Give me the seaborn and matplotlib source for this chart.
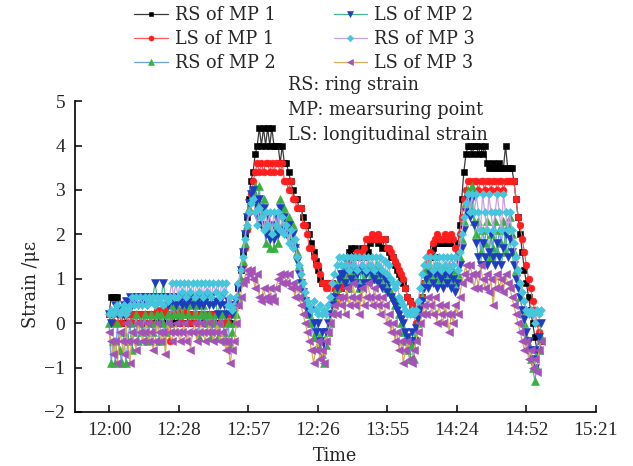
import numpy as np
import matplotlib
matplotlib.use("Agg")
import matplotlib.pyplot as plt
import seaborn as sns

# ---------------- data ----------------
tick_labels = ["12:00", "12:28", "12:57", "12:26", "13:55", "14:24", "14:52", "15:21"]
series_names = ["RS of MP 1", "LS of MP 1", "RS of MP 2", "LS of MP 2", "RS of MP 3", "LS of MP 3"]
sample_step = 0.03  # tick intervals per sample

rs_mp1 = [0.2, 0.6, 0.6, 0.6, 0.6, 0.2, 0.0, 0.2, 0.0, 0.2, 0.2, 0.0, 0.2, 0.0, 0.2, 0.0,
          0.2, 0.0, 0.2, 0.2, 0.0, 0.2, 0.0, 0.2, 0.0, 0.2, 0.2, 0.0, 0.2, 0.0, 0.2, 0.0,
          0.2, 0.0, 0.2, 0.0, 0.2, 0.2, 0.0, 0.2, 0.0, 0.2, 0.0, 0.2, 0.2, 0.0, 0.2, 0.0,
          0.2, 0.0, 0.2, 0.0, 0.2, 0.0, 0.2, 0.2, 0.0, 0.2, 0.0, 0.2, 0.4, 0.4, 0.8, 1.2,
          1.6, 2.0, 2.4, 2.8, 3.2, 3.4, 3.8, 4.0, 4.4, 4.0, 4.4, 4.0, 4.4, 4.0, 4.4, 4.0,
          4.0, 4.0, 3.6, 4.0, 3.6, 3.6, 3.4, 3.2, 3.0, 2.8, 2.8, 2.6, 2.6, 2.4, 2.2, 2.2,
          2.0, 1.8, 1.6, 1.4, 1.2, 1.0, 0.9, 0.9, 0.9, 0.9, 0.9, 0.9, 0.6, 0.6, 0.6, 0.8,
          1.0, 1.2, 1.4, 1.6, 1.7, 1.5, 1.7, 1.5, 1.6, 1.7, 1.5, 1.7, 1.6, 1.8, 1.9, 1.9,
          1.9, 1.8, 1.9, 1.7, 1.9, 1.7, 1.6, 1.5, 1.5, 1.3, 1.2, 1.1, 1.0, 0.9, 0.8, 0.6,
          0.5, 0.4, 0.3, 0.2, 0.3, 0.4, 0.6, 0.9, 1.2, 1.4, 1.5, 1.7, 1.5, 1.8, 1.8, 1.8,
          1.8, 1.8, 1.8, 1.8, 1.8, 1.8, 1.8, 1.6, 2.2, 2.8, 3.4, 3.8, 4.0, 4.0, 3.8, 4.0,
          4.0, 3.8, 4.0, 3.8, 4.0, 3.6, 3.5, 3.5, 3.6, 3.5, 3.5, 3.6, 3.5, 3.5, 4.0, 3.5,
          3.5, 3.5, 3.2, 2.8, 2.4, 2.0, 1.6, 1.2, 0.9, 0.6, 0.3, 0.0, -0.3, -0.6, -0.6, -0.4]

ls_mp1 = [0.2, 0.0, 0.2, 0.0, 0.0, 0.2, 0.0, 0.2, 0.2, 0.0, 0.2, 0.0, 0.2, 0.0, 0.2, 0.0,
          0.2, 0.2, 0.0, 0.2, 0.0, 0.2, 0.2, 0.3, 0.2, 0.3, 0.2, 0.3, 0.2, -0.4, 0.2, 0.3,
          0.2, 0.3, 0.2, 0.0, 0.2, 0.3, 0.2, 0.0, 0.2, 0.0, 0.2, 0.0, 0.2, 0.2, 0.0, 0.2,
          0.0, 0.2, 0.0, 0.2, 0.2, 0.0, 0.2, 0.0, 0.2, 0.0, 0.2, 0.2, 0.3, 0.4, 0.6, 0.9,
          1.3, 1.7, 2.1, 2.5, 2.9, 3.2, 3.4, 3.6, 3.4, 3.6, 3.4, 3.6, 3.6, 3.4, 3.6, 3.4,
          3.6, 3.6, 3.4, 3.6, 3.2, 3.2, 3.0, 3.2, 2.8, 2.8, 2.6, 2.6, 2.6, 2.2, 2.2, 2.0,
          1.7, 1.7, 1.5, 1.3, 1.3, 1.1, 0.9, 0.9, 0.8, 0.9, 0.8, 0.9, 0.8, 0.5, 0.6, 0.8,
          0.9, 1.1, 1.3, 1.4, 1.5, 1.3, 1.5, 1.6, 1.5, 1.6, 1.7, 1.9, 1.9, 1.9, 2.0, 1.9,
          1.9, 2.0, 1.9, 1.9, 1.9, 1.7, 1.7, 1.6, 1.5, 1.4, 1.3, 1.2, 1.1, 1.0, 0.8, 0.6,
          0.5, 0.4, 0.2, 0.0, 0.2, 0.4, 0.6, 0.9, 1.2, 1.4, 1.6, 1.8, 1.9, 2.0, 1.9, 1.9,
          1.9, 2.0, 1.9, 1.9, 2.0, 1.9, 1.7, 1.6, 2.0, 2.4, 2.8, 3.0, 3.2, 3.2, 3.0, 3.2,
          3.2, 3.0, 3.2, 3.2, 3.0, 3.2, 3.2, 3.0, 3.2, 3.2, 3.0, 3.2, 3.2, 3.0, 3.2, 3.2,
          3.2, 3.2, 3.2, 2.8, 2.4, 2.2, 1.9, 1.6, 1.3, 1.0, 0.8, 0.5, 0.3, 0.0, -0.2, -0.4]

rs_mp2 = [0.0, -0.9, -0.4, -0.9, 0.0, -0.6, -0.9, -0.2, -0.9, -0.4, 0.0, -0.6, -0.2, 0.2, -0.4, 0.0,
          -0.2, 0.2, -0.4, 0.0, 0.2, -0.2, 0.0, 0.2, -0.4, 0.2, 0.0, -0.2, 0.2, 0.0, 0.4, 0.2,
          0.4, 0.2, 0.5, 0.2, 0.4, 0.5, 0.2, 0.4, 0.5, 0.2, 0.4, -0.3, 0.2, 0.4, 0.2, 0.0,
          0.2, -0.3, 0.0, 0.2, -0.3, 0.0, 0.2, -0.2, -0.4, 0.0, -0.5, -0.2, 0.0, 0.2, 0.6, 1.0,
          1.4, 1.8, 2.2, 2.6, 2.8, 3.0, 3.1, 2.6, 3.1, 2.3, 2.8, 1.8, 2.3, 1.7, 2.2, 1.7,
          2.3, 1.8, 2.8, 2.2, 2.6, 2.2, 2.4, 2.0, 2.2, 1.8, 1.6, 1.3, 1.0, 0.8, 0.6, 0.3,
          0.2, 0.0, -0.3, -0.2, -0.5, -0.3, -0.7, -0.9, -0.5, -0.2, 0.0, 0.3, 0.6, 0.8, 1.0, 1.1,
          1.2, 1.0, 1.3, 0.8, 1.1, 1.3, 1.0, 1.2, 0.8, 1.3, 1.0, 1.2, 1.3, 1.0, 1.3, 1.1,
          1.3, 1.0, 1.2, 0.9, 1.1, 0.8, 1.0, 0.7, 0.6, 0.4, 0.5, 0.2, 0.0, -0.2, -0.4, -0.6,
          -0.8, -0.5, -0.8, -0.3, 0.0, 0.3, 0.6, 0.9, 1.2, 1.0, 1.3, 1.1, 1.3, 1.0, 1.3, 1.2,
          1.0, 1.3, 1.1, 1.3, 1.0, 1.2, 0.9, 1.1, 1.5, 1.9, 2.3, 2.7, 3.0, 2.6, 3.1, 2.3,
          2.0, 2.3, 1.6, 2.1, 1.8, 2.3, 1.5, 2.0, 1.7, 2.3, 1.6, 2.1, 1.8, 2.3, 1.6, 2.2,
          2.4, 2.0, 1.6, 1.2, 0.9, 0.6, 0.3, 0.0, -0.3, -0.5, -0.8, -1.0, -1.3, -1.0, -0.6, -0.3]

ls_mp2 = [0.2, 0.0, 0.2, 0.4, 0.2, 0.3, 0.2, 0.4, 0.5, 0.4, 0.6, 0.4, 0.5, 0.6, 0.4, 0.6,
          0.5, 0.6, 0.4, 0.6, 0.5, 0.6, 0.9, 0.6, 0.5, 0.6, 0.9, 0.6, 0.4, 0.6, 0.5, 0.6,
          0.4, 0.6, 0.5, 0.4, 0.6, 0.4, 0.5, 0.6, 0.4, 0.6, 0.5, 0.4, 0.6, 0.4, 0.5, 0.6,
          0.4, 0.6, 0.4, 0.5, 0.2, 0.4, 0.6, 0.4, 0.2, 0.5, 0.4, 0.2, 0.4, 0.5, 0.8, 1.2,
          1.6, 2.0, 2.4, 2.7, 2.9, 3.0, 2.7, 2.4, 2.8, 2.2, 2.6, 2.0, 2.4, 1.9, 2.2, 1.9,
          2.4, 2.0, 2.6, 2.1, 2.4, 2.0, 2.2, 1.8, 2.0, 1.7, 1.4, 1.1, 0.9, 0.7, 0.5, 0.3,
          0.2, 0.3, 0.0, -0.2, 0.0, -0.4, -0.2, -0.5, -0.2, 0.0, 0.2, 0.4, 0.6, 0.8, 1.0, 1.1,
          1.1, 0.9, 1.2, 0.8, 1.0, 1.2, 0.9, 1.1, 0.8, 1.2, 0.9, 1.1, 1.2, 0.9, 1.1, 1.0,
          1.2, 0.9, 1.1, 0.8, 1.0, 0.7, 0.9, 0.6, 0.5, 0.4, 0.3, 0.2, 0.1, 0.0, -0.2, -0.3,
          -0.4, -0.2, -0.4, -0.1, 0.1, 0.3, 0.5, 0.8, 1.0, 0.8, 1.1, 0.9, 1.1, 0.8, 1.1, 1.0,
          0.8, 1.1, 0.9, 1.1, 0.8, 1.0, 0.7, 0.9, 1.3, 1.7, 2.1, 2.5, 2.8, 2.4, 2.8, 2.2,
          1.8, 1.5, 1.3, 1.8, 1.5, 1.3, 1.6, 2.0, 1.5, 1.3, 1.8, 1.5, 1.3, 1.7, 2.0, 1.5,
          1.9, 1.6, 1.3, 1.0, 0.8, 0.6, 0.3, 0.1, -0.2, -0.4, -0.6, -0.8, -1.0, -0.6, -0.3, 0.0]

rs_mp3 = [0.2, 0.3, 0.2, 0.3, 0.4, 0.2, 0.3, 0.4, 0.2, 0.3, 0.4, 0.6, 0.4, 0.6, 0.4, 0.6,
          0.4, 0.6, 0.4, 0.6, 0.5, 0.6, 0.4, 0.6, 0.5, 0.6, 0.4, 0.6, 0.5, 0.6, 0.9, 0.6,
          0.9, 0.6, 0.9, 0.7, 0.9, 0.6, 0.9, 0.7, 0.9, 0.6, 0.9, 0.7, 0.9, 0.6, 0.9, 0.7,
          0.9, 0.6, 0.9, 0.7, 0.9, 0.6, 0.9, 0.7, 0.9, 0.4, 0.6, 0.3, 0.4, 0.6, 0.9, 1.2,
          1.5, 1.9, 2.2, 2.5, 2.7, 2.8, 2.5, 2.2, 2.6, 2.4, 2.1, 2.5, 2.2, 2.5, 2.0, 2.5,
          2.2, 2.5, 2.1, 2.4, 2.0, 2.2, 1.8, 2.1, 1.7, 1.9, 1.5, 1.3, 1.1, 0.9, 0.7, 0.5,
          0.4, 0.3, 0.5, 0.3, 0.2, 0.4, 0.2, 0.3, 0.2, 0.4, 0.6, 0.9, 1.1, 1.3, 1.5, 1.3,
          1.5, 1.3, 1.5, 1.2, 1.5, 1.3, 1.5, 1.2, 1.5, 1.3, 1.5, 1.2, 1.5, 1.3, 1.5, 1.2,
          1.5, 1.3, 1.5, 1.2, 1.4, 1.1, 1.3, 1.0, 0.9, 0.8, 0.9, 0.6, 0.5, 0.4, 0.3, 0.2,
          0.2, 0.3, 0.2, 0.3, 0.5, 0.8, 1.1, 1.3, 1.5, 1.3, 1.5, 1.2, 1.5, 1.3, 1.5, 1.2,
          1.5, 1.3, 1.5, 1.2, 1.5, 1.3, 1.5, 1.2, 1.6, 2.0, 2.4, 2.7, 2.9, 2.5, 2.9, 2.5,
          2.9, 2.5, 2.1, 2.9, 2.5, 2.1, 2.9, 2.5, 2.1, 2.5, 2.9, 2.5, 2.1, 2.9, 2.5, 2.1,
          2.5, 2.1, 1.8, 1.5, 1.2, 0.9, 0.7, 0.5, 0.3, 0.2, 0.3, 0.2, 0.0, 0.3, 0.2, 0.3]

ls_mp3 = [-0.2, -0.4, -0.7, -0.4, -0.9, -0.2, -0.4, -0.7, 0.0, -0.4, -0.9, -0.2, -0.4, -0.6, 0.0, -0.2,
          -0.4, -0.2, 0.0, -0.4, -0.2, -0.6, -0.4, 0.0, -0.2, -0.4, -0.2, -0.7, 0.0, -0.2, -0.4, -0.2,
          0.0, -0.2, -0.4, -0.2, 0.0, -0.4, -0.2, -0.6, -0.2, 0.0, -0.4, -0.2, 0.0, -0.2, -0.4, -0.2,
          0.0, -0.2, -0.4, -0.2, 0.0, -0.4, -0.2, -0.4, -0.6, -0.4, -0.9, -0.6, -0.4, 0.0, 0.4, 0.6,
          0.9, 1.0, 1.2, 1.1, 1.2, 1.0, 0.8, 1.1, 0.6, 0.5, 0.8, 0.6, 0.5, 0.8, 0.6, 0.5,
          0.8, 1.0, 1.1, 0.9, 1.1, 0.9, 1.1, 0.8, 0.9, 0.6, 0.8, 0.6, 0.4, 0.2, 0.0, -0.2,
          -0.4, -0.6, -0.9, -0.6, -0.4, -0.8, -0.6, -0.9, -0.4, -0.2, 0.0, 0.2, 0.4, 0.2, 0.6, 0.4,
          0.6, 0.2, 0.8, 0.4, 0.6, 0.9, 0.4, 0.6, 0.2, 0.8, 0.4, 0.6, 0.9, 0.6, 0.4, 0.8,
          0.6, 0.4, 0.2, 0.6, 0.4, 0.0, 0.2, -0.2, 0.0, -0.4, -0.2, -0.6, -0.4, -0.9, -0.6, -0.4,
          -0.8, -0.9, -0.6, -0.4, -0.2, 0.0, 0.2, 0.4, 0.2, 0.6, 0.4, 0.2, 0.6, 0.0, 0.4, 0.2,
          0.0, 0.4, 0.2, -0.2, 0.2, 0.0, 0.4, 0.2, 0.6, 0.9, 1.1, 1.3, 1.0, 1.3, 1.1, 0.8,
          1.1, 0.8, 1.3, 1.0, 0.8, 1.1, 0.7, 1.0, 0.4, 0.8, 1.1, 0.8, 1.0, 0.7, 1.1, 0.9,
          0.8, 0.6, 0.4, 0.2, 0.0, -0.2, -0.4, -0.6, -0.4, -0.8, -0.6, -1.0, -0.8, -1.1, -0.6, -0.4]

# ---------------- style ----------------
sns.set_style("ticks")
plt.rcParams["font.family"] = ["DejaVu Serif", "DejaVu Sans"]
plt.rcParams["xtick.direction"] = "in"
plt.rcParams["ytick.direction"] = "in"

line_colors = ["#3a3a3a", "#ff5a5a", "#6f9fe0", "#45b890", "#c9a2e2", "#d6ad5c"]
marker_colors = ["#000000", "#ff1e1e", "#38b040", "#1e3cbe", "#45c6dc", "#a452b8"]
markers = ["s", "o", "^", "v", "D", "<"]
msizes = [4.2, 4.9, 5.4, 5.4, 4.5, 5.4]

fig = plt.figure(figsize=(6.33, 4.66), dpi=100)
ax = fig.add_axes([0.1185, 0.1159, 0.823, 0.667])

all_series = [rs_mp1, ls_mp1, rs_mp2, ls_mp2, rs_mp3, ls_mp3]
for vals, name, lc, mc, mk, ms in zip(all_series, series_names, line_colors,
                                      marker_colors, markers, msizes):
    t = np.arange(len(vals)) * sample_step
    sns.lineplot(x=t, y=vals, ax=ax, estimator=None, sort=False,
                 color=lc, linewidth=0.9, marker=mk, markersize=ms,
                 markerfacecolor=mc, markeredgecolor=mc, markeredgewidth=0.4,
                 label=name, legend=False)

ax.set_xlim(-0.49, 7.0)
ax.set_ylim(-2, 5)
ax.set_xticks(np.arange(len(tick_labels)))
ax.set_xticklabels(tick_labels)
ax.set_yticks(np.arange(-2, 6))
for lab in ax.get_xticklabels() + ax.get_yticklabels():
    lab.set_family(["Liberation Serif", "DejaVu Serif"])
    lab.set_fontsize(14)
ax.tick_params(axis="both", length=5, width=1.1, color="black")
ax.tick_params(axis="x", pad=7)
ax.tick_params(axis="y", pad=7)
for s in ["top", "right"]:
    ax.spines[s].set_visible(False)
for s in ["left", "bottom"]:
    ax.spines[s].set_linewidth(1.2)
    ax.spines[s].set_color("black")

ax.set_xlabel("Time", fontsize=12.7)
ax.set_ylabel("Strain /\u03bc\u03b5", fontsize=12.7)
ax.xaxis.set_label_coords(0.5, -0.113)
ax.yaxis.set_label_coords(-0.067, 0.41)

handles = ax.get_lines()[:len(series_names)]
leg = fig.legend(handles=handles, labels=series_names, ncol=2,
                 loc="upper left", bbox_to_anchor=(134 / 633, 1 - 6 / 466),
                 frameon=False, fontsize=12.7, borderpad=0, borderaxespad=0,
                 handlelength=1.9, handletextpad=0.4, columnspacing=3.3,
                 labelspacing=0.35, numpoints=1, markerscale=0.75)

notes = ["RS: ring strain", "MP: mearsuring point", "LS: longitudinal strain"]
for k, txt in enumerate(notes):
    fig.text(288 / 633, 1 - (85 + 25 * k) / 466, txt, fontsize=12.7,
             va="center", ha="left")

fig.savefig("out.png", dpi=100)
